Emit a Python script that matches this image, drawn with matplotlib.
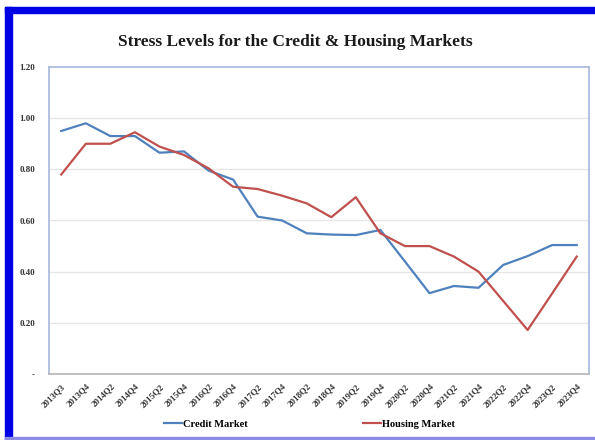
import matplotlib
matplotlib.use("Agg")
import matplotlib.pyplot as plt
from matplotlib.patches import Rectangle
from matplotlib.lines import Line2D

quarters = ["2013Q3", "2013Q4", "2014Q2", "2014Q4", "2015Q2", "2015Q4",
            "2016Q2", "2016Q4", "2017Q2", "2017Q4", "2018Q2", "2018Q4",
            "2019Q2", "2019Q4", "2020Q2", "2020Q4", "2021Q2", "2021Q4",
            "2022Q2", "2022Q4", "2023Q2", "2023Q4"]

credit_market = [0.95, 0.98, 0.93, 0.93, 0.865, 0.87, 0.795, 0.76, 0.615, 0.60,
                 0.55, 0.545, 0.543, 0.563, 0.44, 0.316, 0.344, 0.337,
                 0.426, 0.461, 0.504, 0.504]

housing_market = [0.78, 0.90, 0.90, 0.945, 0.889, 0.856, 0.804, 0.732, 0.723, 0.697,
                  0.667, 0.613, 0.691, 0.55, 0.50, 0.50, 0.459, 0.40,
                  0.286, 0.172, 0.315, 0.459]

y_ticks = [0.0, 0.2, 0.4, 0.6, 0.8, 1.0, 1.2]
y_labels = ["-", "0.20", "0.40", "0.60", "0.80", "1.00", "1.20"]

serif = ["Liberation Serif", "DejaVu Serif"]
blue = "#4f81bd"
red = "#c0504d"

W, H = 595, 440
fig = plt.figure(figsize=(W / 100, H / 100), dpi=100)
fig.patch.set_facecolor("white")

# page frame
def px_rect(x, y, w, h, color):
    fig.patches.append(Rectangle((x / W, 1 - (y + h) / H), w / W, h / H,
                                 transform=fig.transFigure, color=color,
                                 zorder=0))

px_rect(5, 7, 590, 6, "#0000e6")
px_rect(5, 7, 7, 433, "#0000e6")
px_rect(5, 437, 590, 3, "#8c8ce6")

ax = fig.add_axes([49 / W, 1 - 374 / H, 540 / W, 307 / H])
x = list(range(len(quarters)))

ax.plot(x, credit_market, color=blue, lw=1.6, label="Credit Market", zorder=3)
ax.plot(x, housing_market, color=red, lw=1.6, label="Housing Market", zorder=3)

ax.set_xlim(-0.5, len(quarters) - 0.5)
ax.set_ylim(0, 1.2)
ax.set_yticks(y_ticks)
ax.set_yticklabels(y_labels, fontfamily=serif, fontweight="bold", fontsize=6.5,
                   color="#333333")
ax.set_xticks(x)
ax.set_xticklabels(quarters, rotation=45, ha="right", rotation_mode="anchor",
                   fontfamily=serif, fontweight="bold", fontsize=6.4,
                   color="#333333")
ax.tick_params(axis="both", length=0)
ax.tick_params(axis="y", pad=10)
ax.tick_params(axis="x", pad=6)

for yv in y_ticks[1:-1]:
    ax.axhline(yv, color="#e6e6e6", lw=0.9, zorder=1)

for side in ("left", "top", "right"):
    ax.spines[side].set_color("#a8b8d8")
    ax.spines[side].set_linewidth(1.2)
ax.spines["bottom"].set_color("#b4b4b4")
ax.spines["bottom"].set_linewidth(1.2)

fig.text(0.497, 0.905, "Stress Levels for the Credit & Housing Markets",
         ha="center", va="center", fontfamily=serif, fontweight="bold",
         fontsize=12.5, color="#1a1a1a")

handles = [Line2D([], [], color=blue, lw=1.6), Line2D([], [], color=red, lw=1.6)]
fig.legend(handles, ["Credit Market", "Housing Market"], loc="center",
           bbox_to_anchor=(0.52, 0.036), ncol=2, frameon=False,
           prop={"family": serif, "weight": "bold", "size": 7.5},
           handlelength=1.8, handletextpad=0.1, columnspacing=11)

fig.savefig("out.png", dpi=100, facecolor=fig.get_facecolor())
